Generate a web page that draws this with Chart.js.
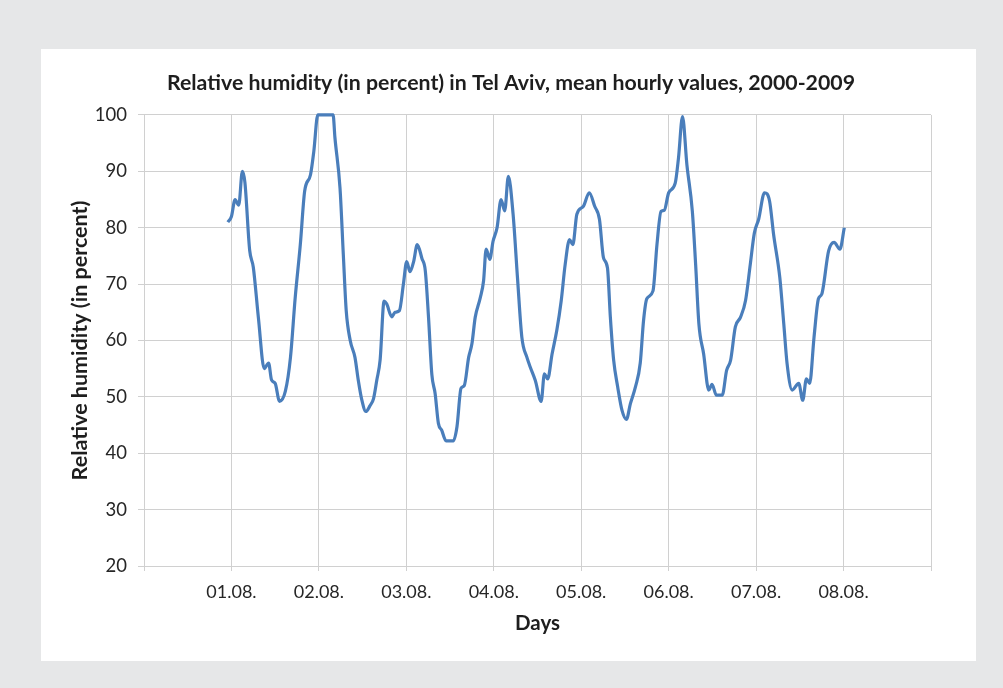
<!DOCTYPE html>
<html>
<head>
<meta charset="utf-8">
<script src="https://cdn.jsdelivr.net/npm/chart.js@4"></script>
<style>
  html, body { margin: 0; padding: 0; background: #e6e7e8; }
  body { width: 1003px; height: 688px; position: relative; overflow: hidden; }
  #panel { position: absolute; left: 41px; top: 49px; width: 935px; height: 612px; background: #fff; }
  #chart { display: block; }
</style>
</head>
<body>
<div id="panel"><canvas id="chart" width="935" height="612"></canvas></div>
<script>
// hours since 01.08. 00:00
const hours = [
  -1, 0, 1, 2, 3, 3.7, 5, 6, 7.4, 9, 10.2, 11, 12, 13.2, 14.8, 16.2, 17.5, 18.9, 20.1, 21.7, 22.6, 23.7,
  27.9, 28.4, 29.8, 30.7, 31.5, 32.6, 33.9, 34.8, 35.8, 36.9, 38, 39, 39.9, 40.8, 41.9, 42.6, 44, 44.9, 46.1, 47.2,
  48.1, 49, 50, 51, 52.3, 53.2, 54.1, 55, 55.9, 56.8, 57.7, 58.9, 60.9, 61.9, 63, 63.9, 65.1, 66, 66.9, 68.3, 69.2, 69.9, 70.9, 71.8,
  72.9, 74, 75, 76, 77.3, 78.5, 79.7, 81.1, 82, 83.4, 85, 85.9, 86.8, 88, 89.3, 90.5, 91.6, 92.8, 93.7, 94.8,
  96.6, 98.2, 99.7, 101, 102.1, 103.2, 104, 104.9, 106, 107.2, 108.4, 109.5, 110.9, 112.2, 113.1, 114, 115.7, 116.8, 117.9, 118.8,
  120, 121.8, 122.7, 123.8, 125, 126.5, 127.4, 128.3, 129.6, 131, 131.9, 133.1, 134.7, 135.9, 137, 138.3, 139.7, 141.1, 142.4, 143.5,
  144.7, 146.3, 147.7, 148.8, 150.5, 151.6, 152.5, 153.9, 155.7, 156.8, 157.8, 158.7, 159.9, 161.1, 162, 163.9, 165.4, 167, 168.2
];
const humidity = [
  81, 82, 85, 84, 90, 88, 76, 73, 64, 55, 56, 53, 52.4, 49.2, 51, 57, 67.6, 77, 86.5, 89.4, 93.5, 100,
  100, 96, 87, 75.3, 65.3, 60, 57, 53, 49.4, 47.4, 48.4, 49.7, 53, 56.5, 67, 66.5, 64.2, 65, 65.3, 70,
  74, 72.2, 74, 77, 74.5, 72.4, 64, 54, 50.6, 45.3, 44.1, 42.2, 42.2, 44.7, 51.5, 52, 57, 59.4, 64.1, 67.6, 70.6, 76.2, 74.4, 77.6,
  80, 85, 83, 89.1, 82.4, 71.2, 60.6, 57, 55.3, 52.9, 49.2, 54.1, 53.2, 57.6, 61.8, 67, 73.5, 77.9, 77, 82.4,
  83.8, 86.2, 83.8, 81.5, 74.7, 72.9, 64.1, 56.5, 51.8, 47.6, 46, 48.8, 51.8, 56, 63.5, 67.4, 68.8, 77.1, 82.9, 83.1,
  86.2, 87.9, 92.4, 99.7, 91.2, 82.9, 73.5, 62.9, 57.6, 51.2, 52.2, 50.3, 50.3, 54.7, 56.5, 62.4, 64.1, 67.1, 73.5, 79,
  81.5, 86.2, 84.7, 78.8, 71.2, 62.9, 55.9, 51.2, 52.4, 49.4, 53.2, 52.4, 60.6, 67.4, 68.2, 75.9, 77.4, 76.2, 80
];
const dayLabels = ['01.08.', '02.08.', '03.08.', '04.08.', '05.08.', '06.08.', '07.08.', '08.08.'];
const yTicks = [20, 30, 40, 50, 60, 70, 80, 90, 100];

const points = hours.map((h, i) => ({ x: h, y: humidity[i] }));
const FONT = 'Lato, "Open Sans", sans-serif';
const gridCol = '#d0d0d0';

new Chart(document.getElementById('chart'), {
  type: 'line',
  data: {
    datasets: [{
      label: 'Relative humidity',
      data: points,
      yAxisID: 'y',
      borderColor: '#4a7ebb',
      borderWidth: 3.2,
      pointRadius: 0,
      cubicInterpolationMode: 'monotone',
      fill: false,
      clip: false
    }]
  },
  options: {
    responsive: false,
    animation: false,
    layout: { padding: { left: 5, right: 0, top: 0, bottom: 0 } },
    plugins: {
      legend: { display: false },
      tooltip: { enabled: false },
      title: {
        display: true,
        text: 'Relative humidity (in percent) in Tel Aviv, mean hourly values, 2000-2009',
        color: '#1e1e1e',
        font: { family: FONT, size: 21.3, weight: 'bold', lineHeight: 1.2 },
        padding: { top: 21.2, bottom: 19.2 }
      }
    },
    scales: {
      x: {
        type: 'linear',
        min: -24,
        max: 192,
        afterBuildTicks: s => { s.ticks = [-24, 0, 24, 48, 72, 96, 120, 144, 168, 192].map(v => ({ value: v })); },
        afterFit: s => { s.height = 95; },
        grid: { color: gridCol, tickLength: 5, tickColor: gridCol },
        border: { color: gridCol },
        ticks: {
          color: '#262626',
          font: { family: FONT, size: 18 },
          padding: 10,
          maxRotation: 0,
          autoSkip: false,
          callback: v => (v >= 0 && v <= 168) ? dayLabels[v / 24] : ''
        },
        title: {
          display: true,
          text: 'Days',
          color: '#1e1e1e',
          font: { family: FONT, size: 20.5, weight: 'bold', lineHeight: 1.2 },
          padding: { top: 0, bottom: 25.5 }
        }
      },
      y: {
        min: 20,
        max: 100,
        afterBuildTicks: s => { s.ticks = yTicks.map(v => ({ value: v })); },
        afterFit: s => { s.width = 98; },
        grid: { color: gridCol, tickLength: 6, tickColor: gridCol },
        border: { color: gridCol },
        ticks: {
          color: '#262626',
          font: { family: FONT, size: 18.5 },
          padding: 11
        },
        title: {
          display: true,
          text: 'Relative humidity (in percent)',
          color: '#1e1e1e',
          font: { family: FONT, size: 21.5, weight: 'bold', lineHeight: 1.2 },
          padding: { top: 21, bottom: 0 }
        }
      },
      // empty right-hand margin so the title centres on the panel
      yRight: {
        position: 'right',
        display: true,
        afterFit: s => { s.width = 45; },
        grid: { display: false },
        border: { display: false },
        ticks: { display: false }
      }
    }
  }
});
</script>
</body>
</html>
